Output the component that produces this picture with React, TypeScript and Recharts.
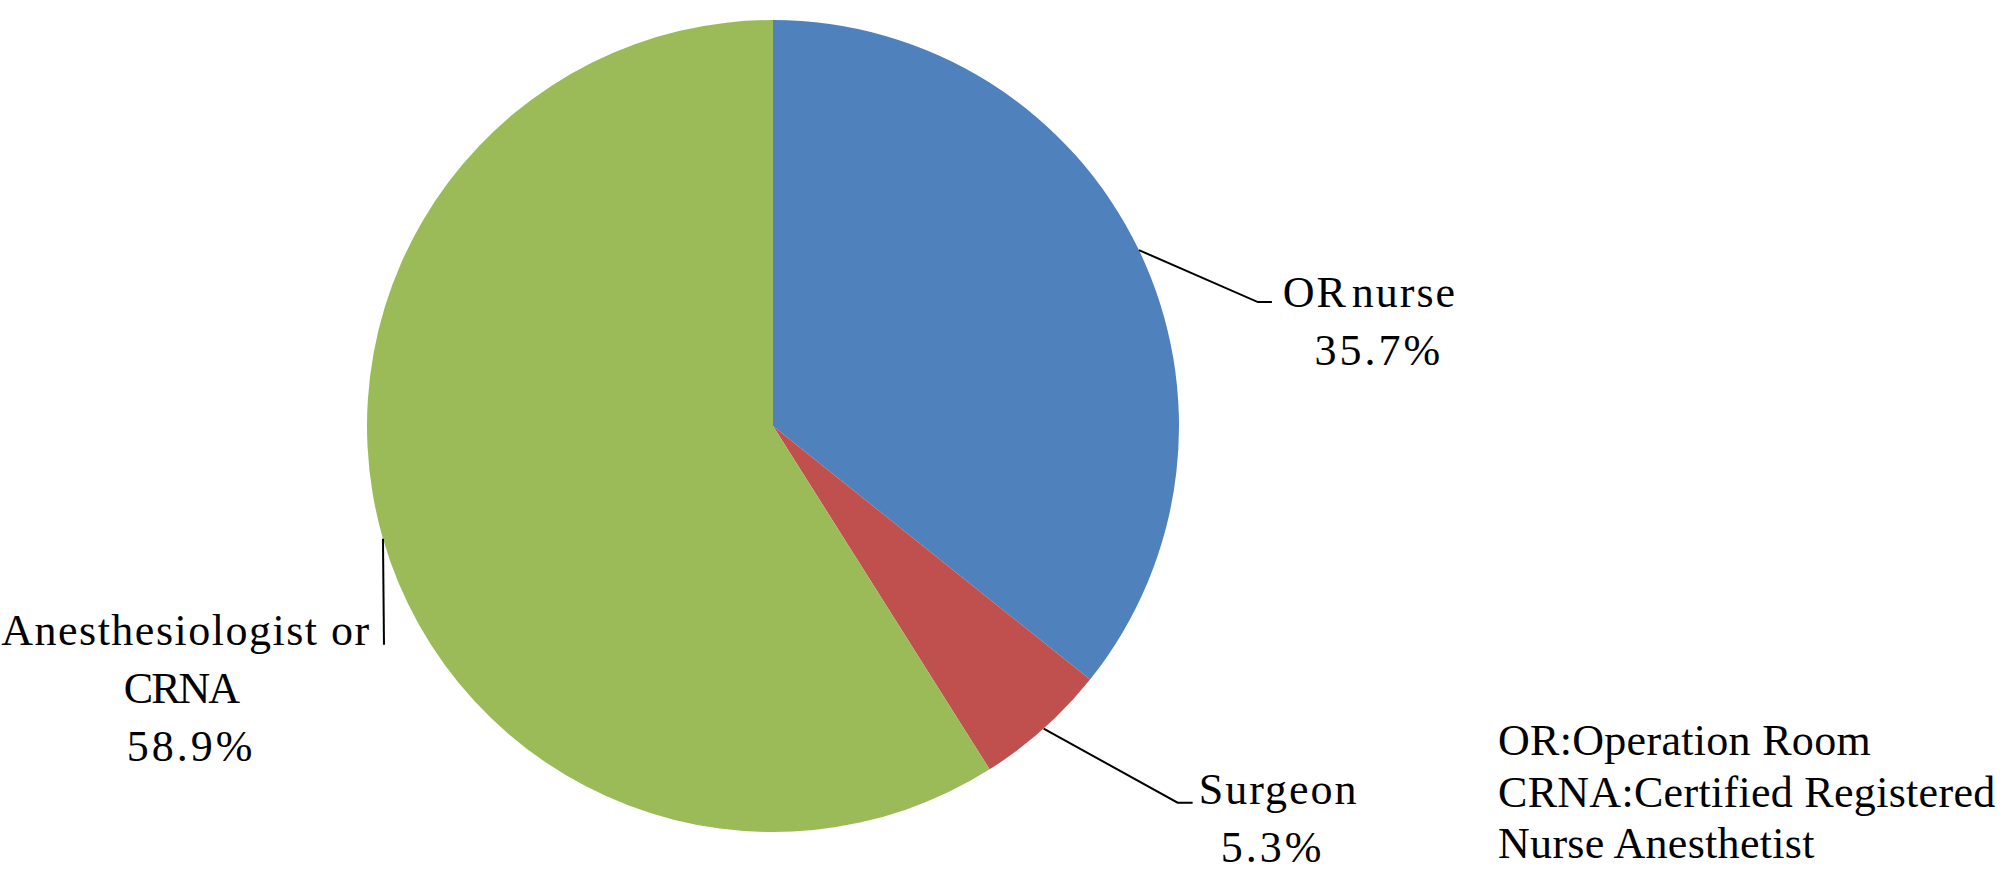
import React from "react";
import { PieChart, Pie, Cell } from "recharts";

const categories = ["OR nurse", "Surgeon", "Anesthesiologist or CRNA"];
const values = [35.7, 5.3, 58.9];
const percentLabels = ["35.7%", "5.3%", "58.9%"];
const nameLines = [["OR nurse"], ["Surgeon"], ["Anesthesiologist or", "CRNA"]];
const colors = ["#4F81BD", "#C0504D", "#9BBB59"];
const footnoteLines = ["OR:Operation Room", "CRNA:Certified Registered", "Nurse Anesthetist"];

const data = categories.map((name, i) => ({ name, value: values[i] }));

// label layout (offsets relative to the point on the slice edge at mid angle)
const layout = [
  { ex: 119, ey: 52, tail: 14, tx: 231, ty: 57, lineStyle: [{ ls: 2, ws: -9 }, { ls: 3, dx: 9 }] },
  { ex: 134, ey: 74, tail: 15, tx: 232, ty: 75, lineStyle: [{ ls: 2, dx: 3 }, { ls: 3, dx: -3 }] },
  { ex: 1, ey: 106, tail: 0, tx: -197, ty: 106, lineStyle: [{ ls: 1.5, dx: 0 }, { ls: -2, dx: -5 }, { ls: 3, dx: 5 }] },
];

const RAD = Math.PI / 180;
const FONT = "'Liberation Serif', 'Times New Roman', serif";

const renderLabel = (props: any) => {
  const { cx, cy, midAngle, outerRadius, index } = props;
  const sx = cx + outerRadius * Math.cos(-midAngle * RAD);
  const sy = cy + outerRadius * Math.sin(-midAngle * RAD);
  const L = layout[index];
  const mx = sx + L.ex;
  const my = sy + L.ey;
  const endX = mx + L.tail;
  const lines = [...nameLines[index], percentLabels[index]];
  const lineH = 58;
  return (
    <g key={`lbl-${index}`}>
      <polyline
        points={`${sx},${sy} ${mx},${my} ${endX},${my}`}
        fill="none"
        stroke="#000"
        strokeWidth={2}
      />
      {lines.map((t, j) => {
        const st: any = L.lineStyle[j] || {};
        return (
          <text
            key={j}
            x={sx + L.tx + (st.dx || 0)}
            y={sy + L.ty + j * lineH}
            textAnchor="middle"
            fontFamily={FONT}
            fontSize={44}
            fill="#000"
            letterSpacing={st.ls || 0}
            wordSpacing={st.ws || 0}
          >
            {t}
          </text>
        );
      })}
    </g>
  );
};

export default function App() {
  return (
    <div style={{ position: "absolute", left: 0, top: 0, width: 2015, height: 884, background: "#fff" }}>
      <PieChart width={2015} height={884} margin={{ top: 0, right: 0, bottom: 0, left: 0 }}>
        <Pie
          data={data}
          dataKey="value"
          nameKey="name"
          cx={773}
          cy={426}
          outerRadius={406}
          startAngle={90}
          endAngle={-270}
          stroke="none"
          label={renderLabel}
          labelLine={false}
          isAnimationActive={false}
        >
          {data.map((d, i) => (
            <Cell key={d.name} fill={colors[i]} stroke="none" />
          ))}
        </Pie>
      </PieChart>
      <svg
        width={2015}
        height={884}
        style={{ position: "absolute", left: 0, top: 0, pointerEvents: "none" }}
      >
        {footnoteLines.map((t, i) => (
          <text
            key={i}
            x={1498}
            y={755 + i * 51.5}
            fontFamily={FONT}
            fontSize={44}
            letterSpacing={0.3}
            fill="#000"
          >
            {t}
          </text>
        ))}
      </svg>
    </div>
  );
}
